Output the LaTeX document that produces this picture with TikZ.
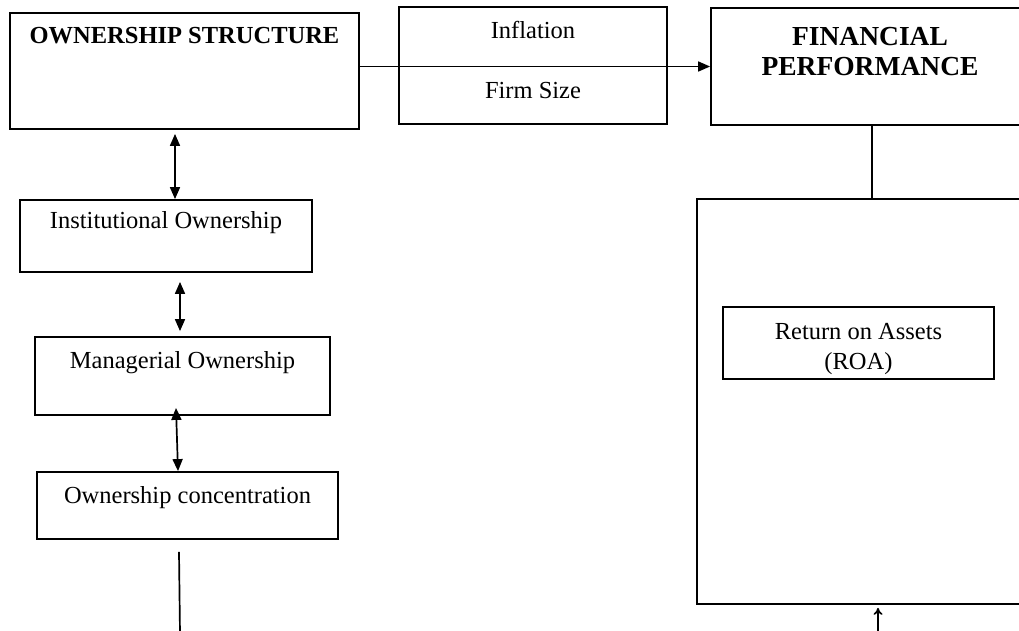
\documentclass[tikz,border=0pt]{standalone}
\usepackage{fontspec}
\setmainfont{Liberation Serif}
\usepackage{tikz}
\usetikzlibrary{arrows.meta}
\tikzstyle{factor} = [rectangle, draw=black, line width=1.8pt, inner sep=0pt,
align=center, fill=white, font=\fontsize{24.5}{30}\selectfont]
\tikzstyle{outcome} = [rectangle, draw=black, line width=1.8pt, inner sep=0pt,
fill=white]
\tikzstyle{arrow} = [line width=1.7pt,<->,>={Triangle[length=12pt,width=10pt]}]
\tikzstyle{link} = [line width=1.7pt]

\begin{document}
\begin{tikzpicture}[x=1pt,y=-1pt]
    \useasboundingbox (0,0) rectangle (1019,630);
    \begin{scope}
    \clip (0,0) rectangle (1019,630);
    \node (n1) [factor, minimum width=349pt, text height=30pt, text depth=86pt,
        font=\fontsize{24.5}{30}\bfseries] at (184.5,71) {OWNERSHIP STRUCTURE};
    \node (n2) [factor, minimum width=268pt, text height=91pt, text depth=26pt]
        at (533,65.5) {Inflation\\[30pt]Firm Size};
    \node (n3) [factor, minimum width=318pt, text height=67pt, text depth=50pt,
        font=\fontsize{27.5}{30}\bfseries] at (870,66.5) {FINANCIAL\\PERFORMANCE};
    \node (n4) [outcome, minimum width=346pt, minimum height=405pt] at (870,401.5) {};
    \node (n5) [factor, minimum width=271pt, text height=62pt, text depth=10pt]
        at (858.5,343) {Return on Assets\\(ROA)};
    \node (n6) [factor, minimum width=292pt, text height=28pt, text depth=44pt]
        at (166,236) {Institutional Ownership};
    \node (n7) [factor, minimum width=295pt, text height=31pt, text depth=47pt]
        at (182.5,376) {Managerial Ownership};
    \node (n8) [factor, minimum width=301pt, text height=31pt, text depth=36pt]
        at (187.5,505.5) {Ownership concentration};
    \coordinate (cOut) at (180,634);
    \coordinate (cIn) at (878,634);
    \end{scope}
    \draw [arrow, <-] (n3.west) -- (n1.east |- n3.west);
    \draw [link] ([xshift=2pt]n3.south) -- ([xshift=2pt]n4.north);
    \draw [arrow] ([xshift=-9.5pt,yshift=-4pt]n1.south) -- ([xshift=9pt]n6.north);
    \draw [arrow] ([xshift=14pt,yshift=-9pt]n6.south) -- ([xshift=-2.5pt,yshift=5pt]n7.north);
    \draw [arrow] ([xshift=-6.5pt,yshift=8pt]n7.south) -- ([xshift=-9.5pt]n8.north);
    \draw [link] ([xshift=-8.5pt,yshift=-12pt]n8.south) -- (cOut);
    \draw [link, ->, >={To[length=7pt,width=9pt]}] (cIn) -- ([yshift=-3pt]cIn |- n4.south);
\end{tikzpicture}
\end{document}
